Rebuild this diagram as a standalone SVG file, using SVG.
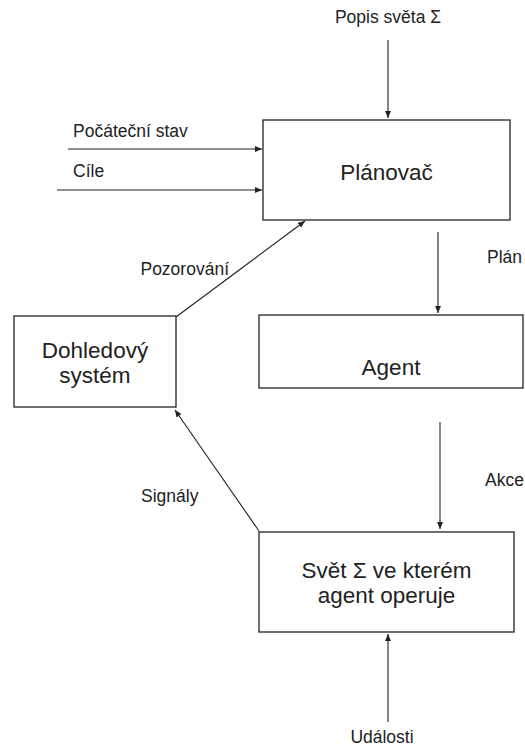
<svg xmlns="http://www.w3.org/2000/svg" width="525" height="747" viewBox="0 0 525 747">
<style>
.box{fill:#ffffff;stroke:#222;stroke-width:1.3}
.c{fill:none;stroke:#222;stroke-width:1.1}
.t{font-family:"Liberation Sans",Arial,sans-serif;font-size:22.5px;fill:#222;text-anchor:middle}
.l{font-family:"Liberation Sans",Arial,sans-serif;font-size:17.5px;fill:#222}
</style>
<defs>
<marker id="ah" markerUnits="userSpaceOnUse" markerWidth="8" markerHeight="8" refX="7" refY="3" orient="auto">
<path d="M0,0 L7,3 L0,6 z" fill="#222"/>
</marker>
</defs>
<rect width="525" height="747" fill="#ffffff"/>
<g id="connectors">
<line class="c" x1="388" y1="40" x2="388" y2="118" marker-end="url(#ah)"/>
<line class="c" x1="68" y1="149" x2="262" y2="149" marker-end="url(#ah)"/>
<line class="c" x1="57" y1="190" x2="262" y2="190" marker-end="url(#ah)"/>
<line class="c" x1="176" y1="317" x2="305" y2="221" marker-end="url(#ah)"/>
<line class="c" x1="438" y1="232" x2="438" y2="313" marker-end="url(#ah)"/>
<line class="c" x1="440" y1="422" x2="440" y2="529" marker-end="url(#ah)"/>
<line class="c" x1="259" y1="531" x2="175" y2="410" marker-end="url(#ah)"/>
<line class="c" x1="388" y1="722" x2="388" y2="634" marker-end="url(#ah)"/>
<text class="l" x="388" y="23" text-anchor="middle">Popis světa Σ</text>
<text class="l" x="73" y="137">Počáteční stav</text>
<text class="l" x="73" y="177">Cíle</text>
<text class="l" x="229" y="275" text-anchor="end">Pozorování</text>
<text class="l" x="487" y="263">Plán</text>
<text class="l" x="485" y="486">Akce</text>
<text class="l" x="141" y="502">Signály</text>
<text class="l" x="382" y="743" text-anchor="middle">Události</text>
</g>
<g id="planovac">
<rect class="box" x="263" y="120" width="247" height="100"/>
<text class="t" x="386.5" y="180">Plánovač</text>
</g>
<g id="agent">
<rect class="box" x="259" y="315" width="264" height="73"/>
<text class="t" x="391" y="375">Agent</text>
</g>
<g id="dohledovy">
<rect class="box" x="14" y="316" width="162" height="91"/>
<text class="t" x="95" y="358">Dohledový</text>
<text class="t" x="95" y="383">systém</text>
</g>
<g id="svet">
<rect class="box" x="259" y="532" width="255" height="100"/>
<text class="t" x="386.5" y="578">Svět Σ ve kterém</text>
<text class="t" x="386.5" y="603">agent operuje</text>
</g>
</svg>
